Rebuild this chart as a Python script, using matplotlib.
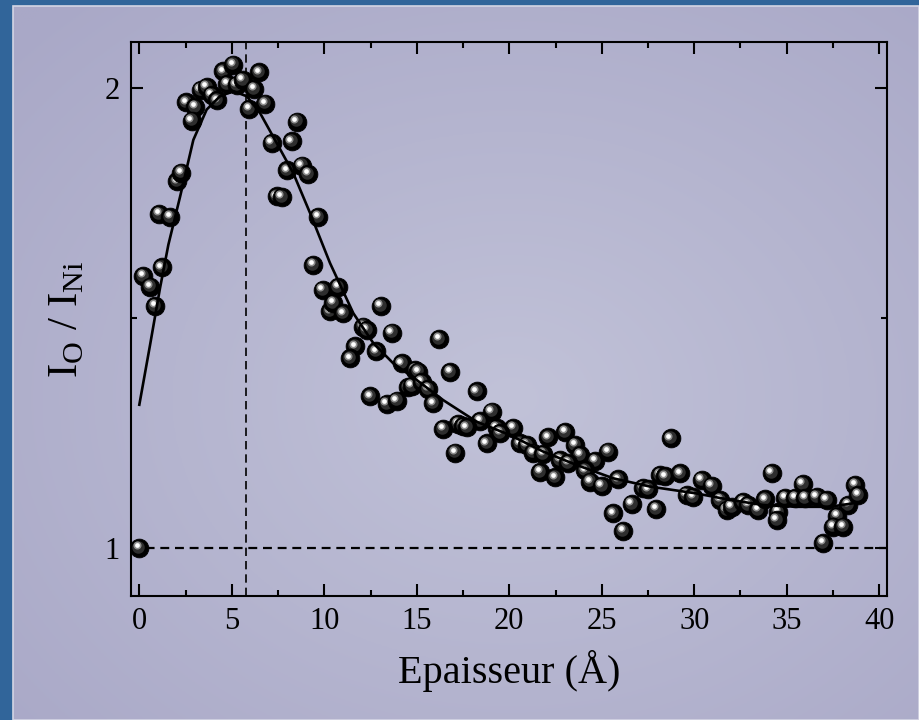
import numpy as np
import matplotlib
matplotlib.use('Agg')
import matplotlib.pyplot as plt
from matplotlib.colors import to_rgb
from matplotlib.patches import Rectangle
from matplotlib.transforms import offset_copy

plt.rcParams['font.family'] = ['Liberation Serif', 'DejaVu Serif']
plt.rcParams['mathtext.fontset'] = 'custom'
plt.rcParams['mathtext.rm'] = 'Liberation Serif'

# measured points (thickness in Angstrom, intensity ratio)
x_data = [0.00, 0.22, 0.58, 0.85, 1.21, 1.08, 1.66, 2.05, 2.25, 2.52, 3.01, 2.83, 3.32, 3.64,
          3.91, 4.22, 4.54, 5.08, 4.76, 5.26, 5.59, 6.20, 6.49, 5.95, 6.79, 8.51, 7.16, 8.24,
          8.00, 8.78, 9.14, 7.43, 7.70, 9.68, 9.41, 9.91, 10.76, 10.31, 10.49, 11.03, 12.11,
          12.29, 13.05, 13.64, 11.66, 11.39, 12.79, 14.18, 14.90, 12.47, 13.37, 13.91, 14.54,
          14.72, 16.22, 16.79, 15.08, 15.26, 15.62, 15.89, 18.24, 19.05, 18.42, 17.24, 17.51,
          17.70, 16.43, 19.32, 20.22, 19.50, 18.78, 17.06, 20.58, 20.94, 22.11, 23.01, 21.30,
          21.84, 23.55, 23.82, 22.74, 23.19, 21.66, 22.47, 24.63, 25.35, 24.09, 24.36, 24.99,
          25.89, 25.62, 26.16, 26.62, 27.24, 27.50, 27.93, 28.14, 28.42, 29.23, 28.72, 29.59,
          29.95, 30.40, 30.94, 31.39, 31.75, 32.02, 32.65, 32.92, 33.46, 34.18, 33.82, 34.54,
          34.45, 34.90, 35.44, 35.86, 35.98, 36.62, 37.16, 38.32, 38.69, 38.86, 37.73, 37.51,
          38.05, 36.97]
y_data = [1.000, 1.591, 1.568, 1.526, 1.610, 1.726, 1.719, 1.797, 1.816, 1.969, 1.959, 1.929,
          1.996, 2.002, 1.985, 1.973, 2.036, 2.051, 2.009, 2.007, 2.017, 1.998, 2.034, 1.954,
          1.966, 1.927, 1.880, 1.884, 1.821, 1.831, 1.813, 1.764, 1.763, 1.720, 1.615, 1.561,
          1.567, 1.514, 1.532, 1.510, 1.481, 1.474, 1.526, 1.468, 1.438, 1.412, 1.427, 1.401,
          1.387, 1.329, 1.313, 1.320, 1.349, 1.352, 1.454, 1.382, 1.383, 1.361, 1.345, 1.314,
          1.340, 1.296, 1.276, 1.269, 1.265, 1.262, 1.258, 1.260, 1.260, 1.250, 1.227, 1.207,
          1.227, 1.224, 1.240, 1.252, 1.207, 1.204, 1.224, 1.202, 1.191, 1.184, 1.165, 1.153,
          1.189, 1.209, 1.168, 1.144, 1.134, 1.149, 1.075, 1.037, 1.095, 1.130, 1.127, 1.084,
          1.158, 1.155, 1.162, 1.238, 1.115, 1.110, 1.147, 1.134, 1.104, 1.082, 1.089, 1.100,
          1.093, 1.082, 1.163, 1.105, 1.078, 1.060, 1.108, 1.108, 1.139, 1.108, 1.110, 1.104,
          1.093, 1.137, 1.115, 1.069, 1.046, 1.046, 1.010]

# fitted curve
fit_x = [0.00, 0.58, 1.12, 1.57, 2.20, 2.92, 3.64, 4.36, 5.08, 5.81, 6.52, 7.43, 8.32, 9.23,
         10.31, 11.57, 12.65, 13.73, 14.99, 16.43, 18.24, 20.04, 21.84, 23.64, 25.62, 27.61,
         30.13, 31.93, 33.73, 35.54, 37.34, 38.96]
fit_y = [1.311, 1.441, 1.565, 1.659, 1.763, 1.887, 1.953, 1.982, 1.993, 1.982, 1.946, 1.880,
         1.815, 1.728, 1.619, 1.510, 1.445, 1.401, 1.365, 1.321, 1.274, 1.245, 1.209, 1.180,
         1.151, 1.133, 1.118, 1.104, 1.093, 1.089, 1.089, 1.099]

x_peak = 5.75
y_ref = 1.0

W, H = 919, 720
fig = plt.figure(figsize=(W / 100, H / 100), dpi=100)
fig.patch.set_facecolor('#31659a')

# lavender panel with soft radial gradient
bg = fig.add_axes([13 / W, 0, 1 - 13 / W, 1 - 6 / H], zorder=-5)
gy, gx = np.mgrid[0:1:300j, 0:1:300j]
r = np.sqrt(((gx - 0.55) / 0.75) ** 2 + ((gy - 0.45) / 0.75) ** 2)
t = np.clip(r, 0, 1)[..., None]
c_in = np.array(to_rgb('#c1c2d8'))
c_out = np.array(to_rgb('#a9a8c7'))
img = c_in * (1 - t) + c_out * t
bg.imshow(img, aspect='auto', extent=[0, 1, 0, 1], origin='lower')
bg.set_xlim(0, 1)
bg.set_ylim(0, 1)
bg.axis('off')
fig.patches.append(Rectangle((13 / W, 0), 1 - 13 / W, 1 - 6 / H, transform=fig.transFigure,
                             fill=False, edgecolor='#d4d5e4', linewidth=1.2, zorder=-4))

ax = fig.add_axes([131 / W, 1 - 596 / H, (887 - 131) / W, (596 - 42) / H])
ax.set_facecolor('none')

ax.axhline(y_ref, color='black', lw=1.6, dashes=(4, 2.6), zorder=2)
ax.axvline(x_peak, color='black', lw=1.2, dashes=(5, 3), zorder=2)

# sphere-like markers: black ball + shaded highlight layers
off1 = offset_copy(ax.transData, fig=fig, x=-1.0, y=1.2, units='dots')
off2 = offset_copy(ax.transData, fig=fig, x=-2.3, y=2.7, units='dots')
for i, (xv, yv) in enumerate(zip(x_data, y_data)):
    z = 3 + i * 0.001
    ax.plot(xv, yv, 'o', ms=13.5, mfc='black', mec='black', mew=0.6, zorder=z)
    ax.plot(xv, yv, 'o', ms=9, mfc='#2e2e2e', mec='none', transform=off1, zorder=z + 0.0002)
    ax.plot(xv, yv, 'o', ms=5.8, mfc='#8e8e8e', mec='none', transform=off2, zorder=z + 0.0004)
    ax.plot(xv, yv, 'o', ms=3.4, mfc='white', mec='none', transform=off2, zorder=z + 0.0006)

ax.plot(fit_x, fit_y, color='black', lw=1.9, zorder=4)

ax.set_xlim(-0.45, 40.42)
ax.set_ylim(0.895, 2.10)
ax.set_xticks(np.arange(0, 41, 5))
ax.set_xticks(np.arange(2.5, 40, 5), minor=True)
ax.set_yticks([1, 2])
ax.set_yticks([1.5], minor=True)

for s in ax.spines.values():
    s.set_linewidth(1.5)
ax.tick_params(which='both', direction='in', top=True, right=True, width=1.5, labelsize=22,
               pad=8)
ax.tick_params(which='major', length=8.5)
ax.tick_params(which='minor', length=4.3)

ax.set_xlabel('Epaisseur (Å)', fontsize=29, labelpad=10)
ax.set_ylabel(r'I$_\mathregular{O}$ / I$_\mathregular{Ni}$', fontsize=31, labelpad=13)

fig.savefig('out.png', dpi=100, facecolor=fig.get_facecolor())
